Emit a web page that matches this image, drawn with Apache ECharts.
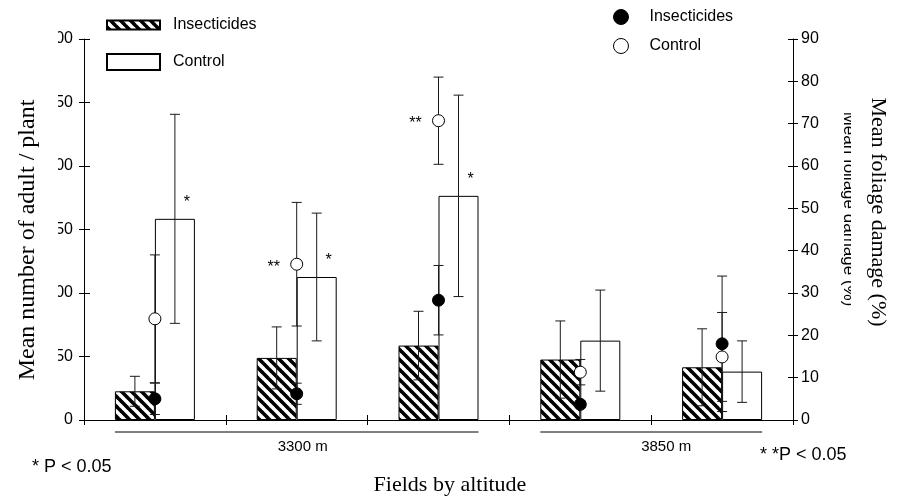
<!DOCTYPE html>
<html>
<head>
<meta charset="utf-8">
<script src="https://cdn.jsdelivr.net/npm/echarts@6/dist/echarts.min.js"></script>
<style>
  html, body { margin: 0; padding: 0; background: #fff; }
  #chart { width: 901px; height: 497px; }
</style>
</head>
<body>
<div id="chart"></div>
<script>
// fields (x categories, labels not printed on the axis)
var fieldNames = ['Field 1', 'Field 2', 'Field 3', 'Field 4', 'Field 5'];

// adults / plant (left axis), bars
var adultInsecticides   = [22.6, 48.9, 58.6, 47.6, 41.5];
var adultInsecticidesSE = [11.8, 24.4, 27.0, 30.4, 30.3];
var adultControl        = [158.4, 112.6, 176.5, 62.5, 38.1];
var adultControlSE      = [82.3, 50.3, 79.3, 39.8, 24.2];
var adultControlSig     = ['*', '*', '*', '', ''];

// foliage damage % (right axis), circles
var damageInsecticides   = [5.0, 6.2, 28.3, 3.7, 18.0];
var damageInsecticidesSE = [3.7, 2.5, 8.2, 0.8, 16.0];
var damageControl        = [23.9, 36.8, 70.7, 11.3, 14.9];
var damageControlSE      = [15.1, 14.6, 10.3, 3.0, 10.5];
var damageControlSig     = ['', '**', '**', '', ''];

// altitude groups under the axis
var groupLabels = ['3300 m', '3850 m'];
var groupStart  = [0, 3];
var groupEnd    = [2, 4];

var SANS = '"Liberation Sans", Arial, sans-serif';
var SERIF = '"Liberation Serif", "Times New Roman", serif';
var BAR_W = 40;

// hatch pattern for the insecticide bars
function hatch() {
    var c = document.createElement('canvas');
    c.width = 10; c.height = 10;
    var ctx = c.getContext('2d');
    ctx.fillStyle = '#fff';
    ctx.fillRect(0, 0, 10, 10);
    ctx.strokeStyle = '#000';
    ctx.lineWidth = 3.6;
    for (var k = -1; k <= 1; k++) {
        ctx.beginPath();
        ctx.moveTo(k * 10 - 1, -1);
        ctx.lineTo(k * 10 + 11, 11);
        ctx.stroke();
    }
    return { image: c, repeat: 'repeat' };
}

function errorBars(vals, errs, yIdx, dx, sig, sigDx, sigDy) {
    return {
        type: 'custom',
        yAxisIndex: yIdx,
        silent: true,
        z: 4,
        data: vals.map(function (v, i) { return [i, v - errs[i], v + errs[i], v]; }),
        renderItem: function (params, api) {
            var lo = api.coord([api.value(0), api.value(1)]);
            var hi = api.coord([api.value(0), api.value(2)]);
            var mid = api.coord([api.value(0), api.value(3)]);
            var x = lo[0] + dx, w = 5;
            var st = { stroke: '#1a1a1a', lineWidth: 1 };
            var ch = [
                { type: 'line', shape: { x1: x, y1: lo[1], x2: x, y2: hi[1] }, style: st },
                { type: 'line', shape: { x1: x - w, y1: hi[1], x2: x + w, y2: hi[1] }, style: st },
                { type: 'line', shape: { x1: x - w, y1: lo[1], x2: x + w, y2: lo[1] }, style: st }
            ];
            var s = sig && sig[params.dataIndex];
            if (s) {
                ch.push({
                    type: 'text', x: mid[0] + sigDx, y: mid[1] + sigDy,
                    style: { text: s, font: '16px ' + SANS, fill: '#000', align: 'center', verticalAlign: 'middle' }
                });
            }
            return { type: 'group', children: ch };
        }
    };
}

var chart = echarts.init(document.getElementById('chart'));

var yBase = {
    type: 'value',
    splitLine: { show: false },
    axisLine: { show: true, lineStyle: { color: '#000', width: 1 } },
    axisTick: { show: true, length: 5, lineStyle: { color: '#000' } }
};

chart.setOption({
    animation: false,
    backgroundColor: '#fff',
    grid: { left: 84, right: 108, top: 39, bottom: 77, containLabel: false, outerBoundsMode: 'none' },
    legend: [{
        left: 106, top: 17, orient: 'vertical', padding: 0,
        itemWidth: 53, itemHeight: 16, itemGap: 20,
        symbolKeepAspect: true,
        selectedMode: false,
        textStyle: { fontFamily: SANS, fontSize: 16, color: '#000', padding: [0, 0, 0, 8] },
        data: [
            { name: 'Insecticides', icon: 'path://M0,0h53v9h-53z' },
            { name: 'Control', icon: 'rect' }
        ]
    }, {
        left: 613, top: 9, orient: 'vertical', padding: 0,
        itemWidth: 15, itemHeight: 17, itemGap: 13,
        symbolKeepAspect: false,
        selectedMode: false,
        textStyle: { fontFamily: SANS, fontSize: 16, color: '#000', padding: [0, 0, 0, 16] },
        data: [
            { name: 'Insecticides', icon: 'circle', itemStyle: { color: '#000', borderColor: '#000', borderWidth: 1 } },
            { name: 'Control', icon: 'circle', itemStyle: { color: '#fff', borderColor: '#000', borderWidth: 1 } }
        ]
    }],
    xAxis: [{
        type: 'category', data: fieldNames, boundaryGap: true,
        axisLine: { lineStyle: { color: '#000', width: 1 } },
        axisTick: { show: true, length: 5, lineStyle: { color: '#000' } },
        axisLabel: { show: false }
    }, {
        type: 'category', data: fieldNames, boundaryGap: true, position: 'bottom',
        axisLine: { show: false },
        axisTick: { show: true, inside: true, length: 5, lineStyle: { color: '#000' } },
        axisLabel: { show: false }
    }],
    yAxis: [
        Object.assign({}, yBase, {
            position: 'left', min: 0, max: 300, interval: 50,
            axisLabel: { margin: 11, fontFamily: SANS, fontSize: 16, color: '#000' }
        }),
        Object.assign({}, yBase, {
            position: 'right', min: 0, max: 90, interval: 10,
            axisLabel: { margin: 8, fontFamily: SANS, fontSize: 16, color: '#000' }
        }),
        Object.assign({}, yBase, {
            position: 'left', min: 0, max: 300, interval: 50,
            axisLine: { show: false }, axisLabel: { show: false },
            axisTick: { show: true, inside: true, length: 6, lineStyle: { color: '#000' } }
        }),
        Object.assign({}, yBase, {
            position: 'right', min: 0, max: 90, interval: 10,
            axisLine: { show: false }, axisLabel: { show: false },
            axisTick: { show: true, inside: true, length: 5, lineStyle: { color: '#000' } }
        })
    ],
    series: [
        {
            name: 'Insecticides', type: 'bar', yAxisIndex: 0, barWidth: BAR_W, barGap: '0%',
            data: adultInsecticides,
            itemStyle: { color: hatch(), borderColor: '#000', borderWidth: 1 }
        },
        {
            name: 'Control', type: 'bar', yAxisIndex: 0, barWidth: BAR_W, barGap: '0%',
            data: adultControl,
            itemStyle: { color: '#fff', borderColor: '#000', borderWidth: 1 }
        },
        errorBars(adultInsecticides, adultInsecticidesSE, 0, -BAR_W / 2, null),
        errorBars(adultControl, adultControlSE, 0, BAR_W / 2, adultControlSig, 32, -16),
        errorBars(damageInsecticides, damageInsecticidesSE, 1, 0, null),
        errorBars(damageControl, damageControlSE, 1, 0, damageControlSig, -23, 3),
        {
            name: 'Insecticides', type: 'scatter', yAxisIndex: 1, z: 6,
            symbol: 'circle', symbolSize: 12,
            data: damageInsecticides,
            itemStyle: { color: '#000', borderColor: '#000', borderWidth: 1, opacity: 1 }
        },
        {
            name: 'Control', type: 'scatter', yAxisIndex: 1, z: 6,
            symbol: 'circle', symbolSize: 12,
            data: damageControl,
            itemStyle: { color: '#fff', borderColor: '#000', borderWidth: 1, opacity: 1 }
        }
    ]
});

// annotations: titles, altitude brackets, significance notes
var gfx = [
    // hides the left part of the left tick labels, as in the source figure
    { type: 'rect', z: 100, shape: { x: 0, y: 28, width: 58, height: 402 }, style: { fill: '#fff' } },
    {
        type: 'text', z: 101, x: 28, y: 240, rotation: Math.PI / 2,
        style: { text: 'Mean number of adult / plant', font: '24px ' + SERIF, fill: '#000', align: 'center', verticalAlign: 'middle' }
    },
    {
        type: 'text', z: 101, x: 878, y: 212, rotation: -Math.PI / 2,
        style: { text: 'Mean foliage damage (%)', font: '22px ' + SERIF, fill: '#000', align: 'center', verticalAlign: 'middle' }
    },
    {
        type: 'text', z: 99, x: 849, y: 209, rotation: -Math.PI / 2,
        style: { text: 'Mean foliage damage (%)', font: '17px ' + SANS, fill: '#000', align: 'center', verticalAlign: 'middle' }
    },
    // cuts the tops of the faint duplicate title
    { type: 'rect', z: 100, shape: { x: 851, y: 95, width: 11, height: 225 }, style: { fill: '#fff' } },
    {
        type: 'text', z: 101, x: 450, y: 485,
        style: { text: 'Fields by altitude', font: '22px ' + SERIF, fill: '#000', align: 'center', verticalAlign: 'middle' }
    },
    {
        type: 'text', z: 101, x: 32, y: 467,
        style: { text: '* P < 0.05', font: '18px ' + SANS, fill: '#000', align: 'left', verticalAlign: 'middle' }
    },
    {
        type: 'text', z: 101, x: 760, y: 455,
        style: { text: '* *P < 0.05', font: '18px ' + SANS, fill: '#000', align: 'left', verticalAlign: 'middle' }
    }
];

var labelShift = [6, 15];
var y0 = chart.convertToPixel({ yAxisIndex: 0 }, 0);
for (var k = 0; k < groupLabels.length; k++) {
    var xa = chart.convertToPixel({ xAxisIndex: 0 }, fieldNames[groupStart[k]]) - BAR_W;
    var xb = chart.convertToPixel({ xAxisIndex: 0 }, fieldNames[groupEnd[k]]) + BAR_W;
    gfx.push({
        type: 'line', z: 101,
        shape: { x1: xa, y1: y0 + 12, x2: xb, y2: y0 + 12 },
        style: { stroke: '#000', lineWidth: 1 }
    });
    gfx.push({
        type: 'text', z: 101, x: (xa + xb) / 2 + labelShift[k], y: y0 + 27,
        style: { text: groupLabels[k], font: '15px ' + SANS, fill: '#000', align: 'center', verticalAlign: 'middle' }
    });
}
chart.setOption({ graphic: gfx });
</script>
</body>
</html>
